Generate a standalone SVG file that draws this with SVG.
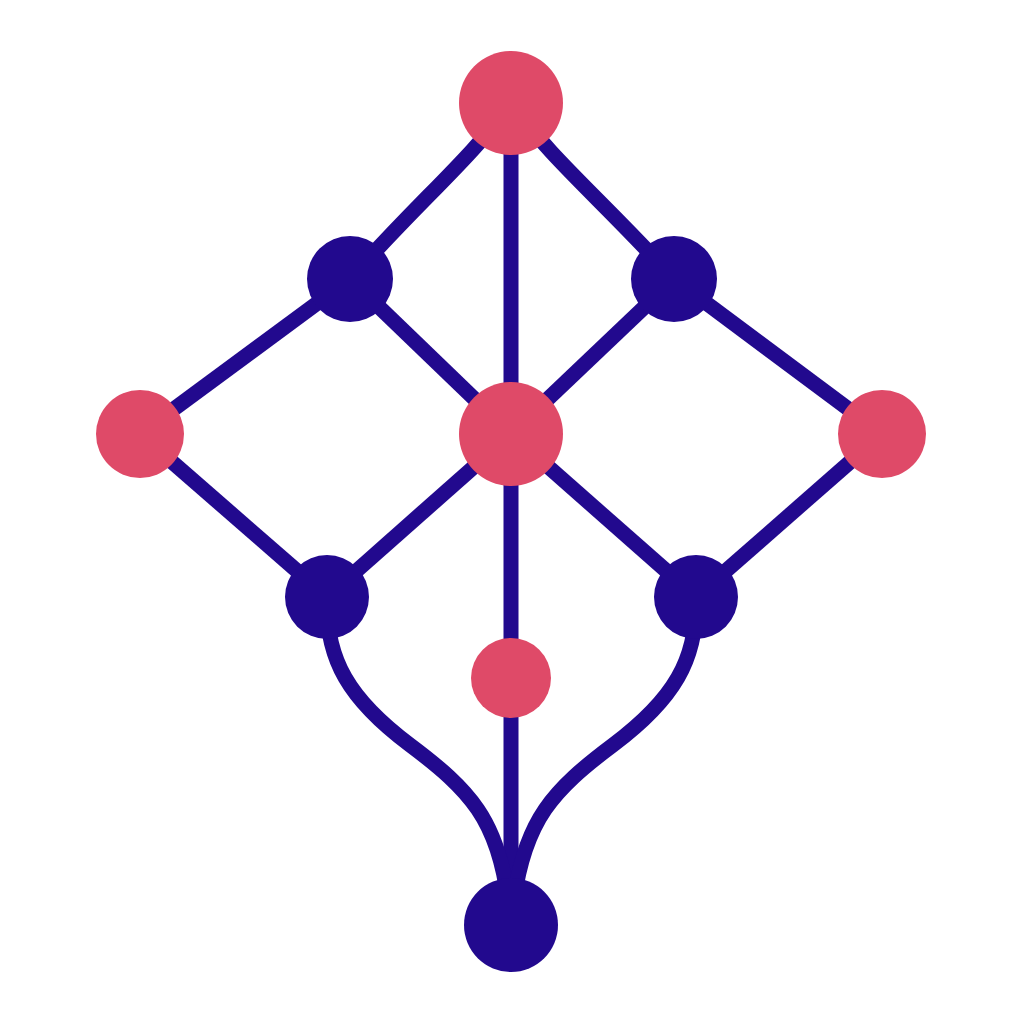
<svg xmlns="http://www.w3.org/2000/svg" width="1024" height="1024" viewBox="0 0 1024 1024">
<style>
.e{fill:none;stroke:#22098E;stroke-width:15;stroke-linecap:butt}
.p{fill:#DF4A68}
.b{fill:#22098E}
</style>
<rect width="1024" height="1024" fill="#fff"/>
<g id="connectors">
<path class="e" d="M511,103 C470,160 420,200 350,279"/>
<path class="e" d="M511,103 C552,160 602,200 674,279"/>
<path class="e" d="M511,103 V434"/>
<path class="e" d="M350,279 L140,434"/>
<path class="e" d="M350,279 L511,434"/>
<path class="e" d="M674,279 L882,434"/>
<path class="e" d="M674,279 L511,434"/>
<path class="e" d="M140,434 L327,597"/>
<path class="e" d="M882,434 L696,597"/>
<path class="e" d="M511,434 L327,597"/>
<path class="e" d="M511,434 L696,597"/>
<path class="e" d="M511,434 V925"/>
<path class="e" d="M327,597 C325,660 350,700 410,745 C470,790 498,820 508,900"/>
<path class="e" d="M696,597 C698,660 673,700 613,745 C553,790 525,820 514,900"/>
</g>
<g id="n-top"><circle class="p" cx="511" cy="103" r="52"/></g>
<g id="n-ul"><circle class="b" cx="350" cy="279" r="43"/></g>
<g id="n-ur"><circle class="b" cx="674" cy="279" r="43"/></g>
<g id="n-l"><circle class="p" cx="140" cy="434" r="44"/></g>
<g id="n-c"><circle class="p" cx="511" cy="434" r="52"/></g>
<g id="n-r"><circle class="p" cx="882" cy="434" r="44"/></g>
<g id="n-ll"><circle class="b" cx="327" cy="597" r="42"/></g>
<g id="n-lr"><circle class="b" cx="696" cy="597" r="42"/></g>
<g id="n-s"><circle class="p" cx="511" cy="678" r="40"/></g>
<g id="n-bot"><circle class="b" cx="511" cy="925" r="47"/></g>
</svg>
